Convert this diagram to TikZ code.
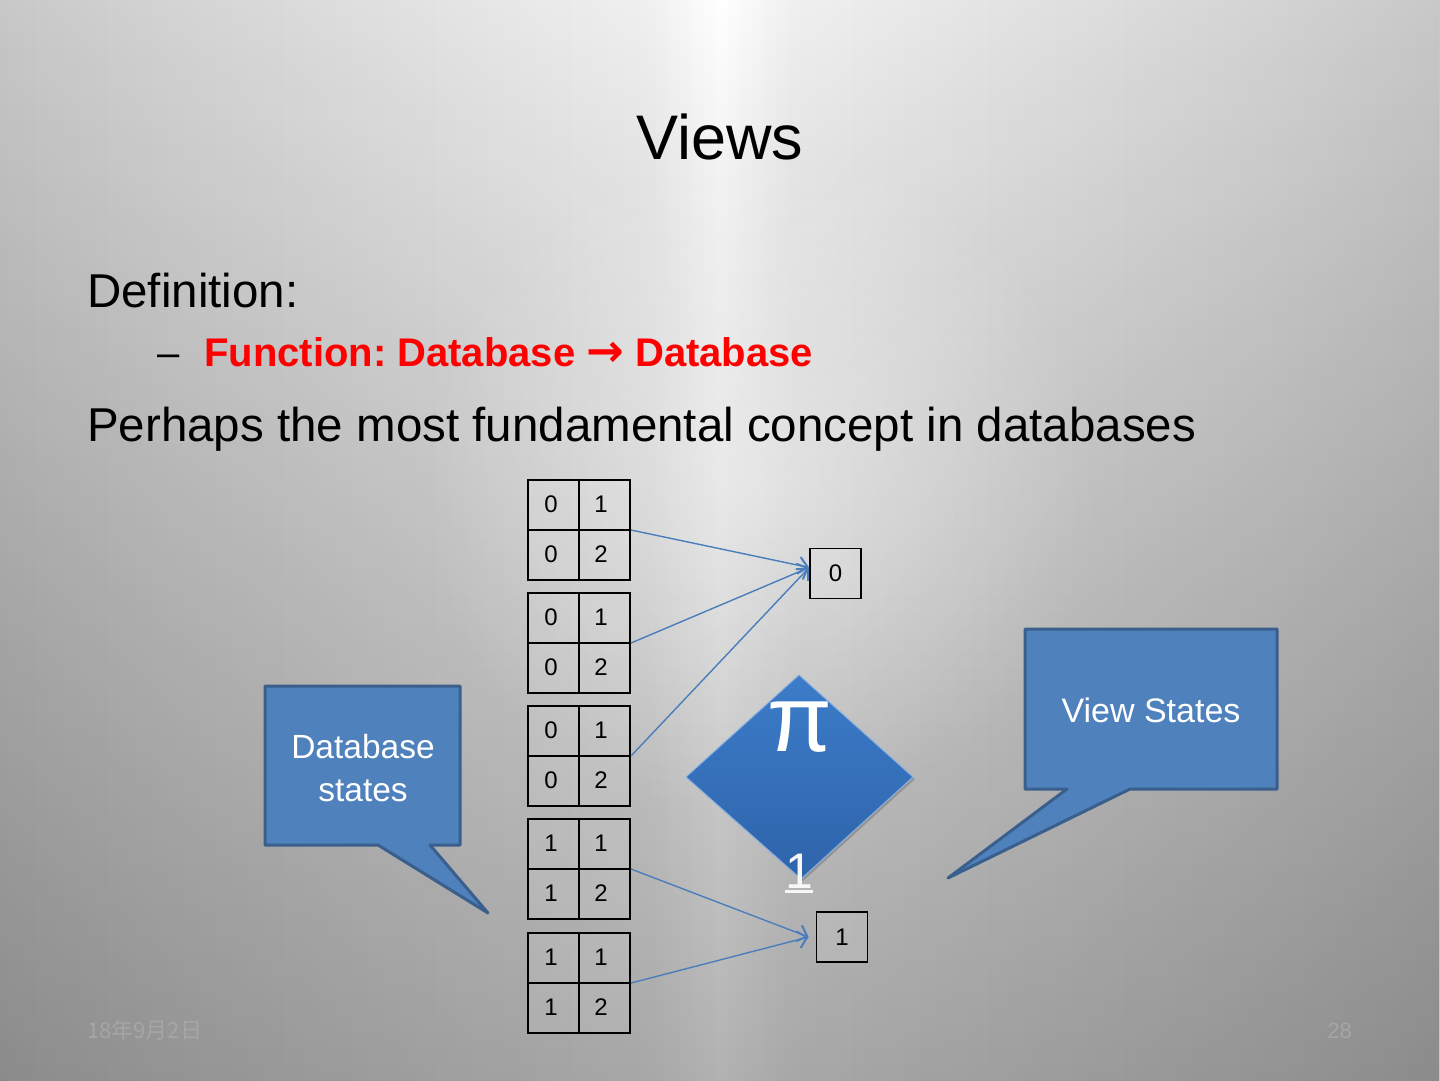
\documentclass[tikz,border=0pt]{standalone}
\usepackage{fontspec}
\setmainfont{Liberation Sans}
\newfontfamily\cjk{Noto Sans CJK SC}
\newfontfamily\arrowfont{DejaVu Sans}
\usetikzlibrary{arrows.meta,calc,fadings}
\definecolor{bggray}{HTML}{808080}
\definecolor{edgegray}{HTML}{A2A2A2}
\definecolor{g1}{HTML}{B2B2B2}
\definecolor{g2}{HTML}{D4D4D4}
\definecolor{g3}{HTML}{F0F0F0}
\definecolor{callfill}{HTML}{4F81BD}
\definecolor{callborder}{HTML}{3A5F8C}
\definecolor{arrowblue}{HTML}{4A7EBB}
\definecolor{diatop}{HTML}{3C7CC9}
\definecolor{diabot}{HTML}{2E64AA}
\definecolor{footgray}{HTML}{A6A6A6}
\pgfdeclarehorizontalshading{bgshade}{100bp}{color(0bp)=(edgegray); color(14bp)=(g1); color(31bp)=(g2); color(47.5bp)=(g3); color(50bp)=(white); color(52.5bp)=(g3); color(69bp)=(g2); color(86bp)=(g1); color(100bp)=(edgegray)}
\tikzfading[name=downfade, top color=transparent!100, middle color=transparent!88, bottom color=transparent!0]
\tikzfading[name=softglow, inner color=transparent!0, outer color=transparent!100]
\newcommand\dbtab[6]{%
  \node[tab, anchor=north west] (#1) at (527,#2) {};
  \draw[tabline] (#1.north) -- (#1.south);
  \draw[tabline] (#1.west) -- (#1.east);
  \node[digit] (#1a) at (551,{#2+25}) {#3};
  \node[digit] (#1b) at (601,{#2+25}) {#4};
  \node[digit] (#1c) at (551,{#2+75}) {#5};
  \node[digit] (#1d) at (601,{#2+75}) {#6};
}
\frenchspacing
\begin{document}
\begin{tikzpicture}[x=1pt,y=-1pt,
  tab/.style={draw=black, line width=2pt, minimum width=102pt, minimum height=100pt, inner sep=0pt, fill=white, fill opacity=0.1},
  tabline/.style={draw=black, line width=2pt},
  digit/.style={inner sep=0pt, font=\fontsize{24}{24}\selectfont, text=black},
  vbox/.style={draw=black, line width=1.8pt, minimum width=51pt, minimum height=50pt, inner sep=0pt, fill=white, fill opacity=0.1, text opacity=1, font=\fontsize{24}{24}\selectfont},
  arr/.style={draw=arrowblue, line width=1.4pt, -{Straight Barb[length=9pt,width=17pt,line width=2pt]}},
  callout/.style={fill=callfill, draw=callborder, line width=3pt, line join=round},
  callouttext/.style={inner sep=0pt, text=white},
  bodytext/.style={inner sep=0pt, anchor=base west, text=black},
  foot/.style={inner sep=0pt, text=footgray, font=\fontsize{22}{22}\selectfont}
]
\useasboundingbox (0,0) rectangle (1440,1080);
\shade[shading=bgshade] (0,0) rectangle (1440,1080);
\fill[black, opacity=0.3, path fading=downfade] (0,0) rectangle (1440,1080);
\fill[white, opacity=0.4, path fading=softglow] (760,480) circle (340);

% title and text
\node[inner sep=0pt, anchor=base] (title) at (720,159) {\fontsize{63}{70}\selectfont Views};
\node[bodytext] (def) at (87,307) {\fontsize{47.5}{50}\selectfont Definition:};
\node[bodytext] (dash) at (157,366) {\fontsize{40}{45}\selectfont –};
\node[bodytext, text=red] (fn) at (204,366) {\fontsize{40}{44}\selectfont\bfseries Function: Database {\arrowfont\fontsize{45}{45}\selectfont →} Database};
\node[bodytext] (perhaps) at (87,441) {\fontsize{47.5}{50}\selectfont Perhaps the most fundamental concept in databases};

% tables
\dbtab{t1}{479}{0}{1}{0}{2}
\dbtab{t2}{592}{0}{1}{0}{2}
\dbtab{t3}{705}{0}{1}{0}{2}
\dbtab{t4}{818}{1}{1}{1}{2}
\dbtab{t5}{932}{1}{1}{1}{2}

% view boxes
\node[vbox] (v0) at (835.5,573.5) {0};
\node[vbox] (v1) at (842,937) {1};

% arrows
\draw[arr] (t1.east) -- ([yshift=6pt]v0.west);
\draw[arr] (t2.east) -- ([yshift=6pt]v0.west);
\draw[arr] (t3.east) -- ([yshift=6pt]v0.west);
\draw[arr] (t4.east) -- ([xshift=-7pt]v1.west);
\draw[arr] (t5.east) -- ([xshift=-7pt]v1.west);

% diamond
\fill[black, opacity=0.18] (800,677) -- (915,779) -- (803,881) -- (688,779) -- cycle;
\shade[top color=diatop, bottom color=diabot, draw=diatop!60!white, line width=1pt] (799,675) -- (913,777) -- (801,879) -- (686,777) -- cycle;
\node[inner sep=0pt, anchor=base, text=white] (pi) at (800,751) {\fontsize{94}{94}\selectfont π};
\node[inner sep=0pt, anchor=base, text=white!94!gray] (one) at (799,888) {\fontsize{50}{50}\selectfont 1};
\draw[white!94!gray, line width=3pt] ([yshift=-3pt]one.south west) -- ([yshift=-3pt]one.south east);

% callouts
\path[callout] (265,686) -- (460,686) -- (460,845) -- (430,845) -- (488,913) -- (378,845) -- (265,845) -- cycle;
\node[callouttext, align=center, font=\fontsize{33.5}{43}\selectfont] (dbs) at (363,768) {Database\\states};
\path[callout] (1025,629) -- (1277,629) -- (1277,789) -- (1130,789) -- (948,878) -- (1067,789) -- (1025,789) -- cycle;
\node[callouttext, anchor=base, font=\fontsize{34}{40}\selectfont] (vs) at (1151,722) {View States};

% footer
\node[foot, anchor=base west] (date) at (87,1038) {\cjk 18年9月2日};
\node[foot, anchor=base east] (page) at (1352,1038) {28};
\end{tikzpicture}
\end{document}
